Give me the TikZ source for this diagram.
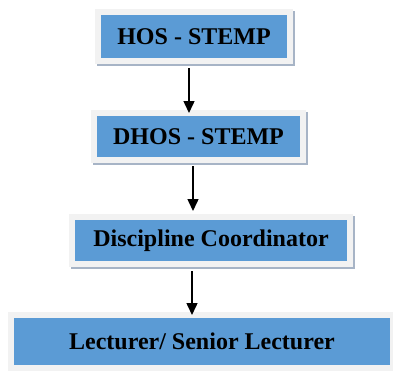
\documentclass[tikz,border=0pt]{standalone}
\usepackage{fontspec}
\setmainfont{Liberation Serif}
\usepackage{tikz}
\usetikzlibrary{arrows.meta}
\usetikzlibrary{calc}
\definecolor{boxblue}{HTML}{5B9BD5}
\definecolor{framegray}{HTML}{F2F2F2}
\definecolor{shadowgray}{HTML}{A7B4C6}

\begin{document}
\begin{tikzpicture}[x=1pt, y=-1pt,
        node_style/.style={rectangle,fill=boxblue,outer sep=0pt,inner sep=0pt,
            font=\fontsize{24}{28}\selectfont\bfseries,
            preaction={draw=shadowgray,line width=12pt,transform canvas={shift={(1.5pt,-1.5pt)}}},
            preaction={draw=framegray,line width=12pt}},
        edge_style/.style={draw=black, line width=1.5pt,-{Triangle[length=12pt,width=11pt]}}]

        \useasboundingbox (0,0) rectangle (393,370);

        \node [node_style,minimum width=186pt,minimum height=43pt](n1) at (194,36.5) {HOS - STEMP};

        \node [node_style,minimum width=203pt,minimum height=41pt](n2) at (198.5,136.5) {DHOS - STEMP};

        \node [node_style,minimum width=272pt,minimum height=41pt](n3) at (211,240.5) {Discipline Coordinator};

        \node [node_style,minimum width=376pt,minimum height=47pt](n4) at (202,341.5) {Lecturer/ Senior Lecturer};

        \draw [edge_style] ([xshift=-5pt,yshift=-10pt]n1.south) -- ([xshift=-9.5pt,yshift=3pt]n2.north);

        \draw [edge_style] ([xshift=-5.5pt,yshift=-9pt]n2.south) -- ([xshift=-18pt,yshift=9pt]n3.north);

        \draw [edge_style] ([xshift=-19pt,yshift=-10pt]n3.south) -- ([xshift=-10pt,yshift=3pt]n4.north);

        \end{tikzpicture}
\end{document}
